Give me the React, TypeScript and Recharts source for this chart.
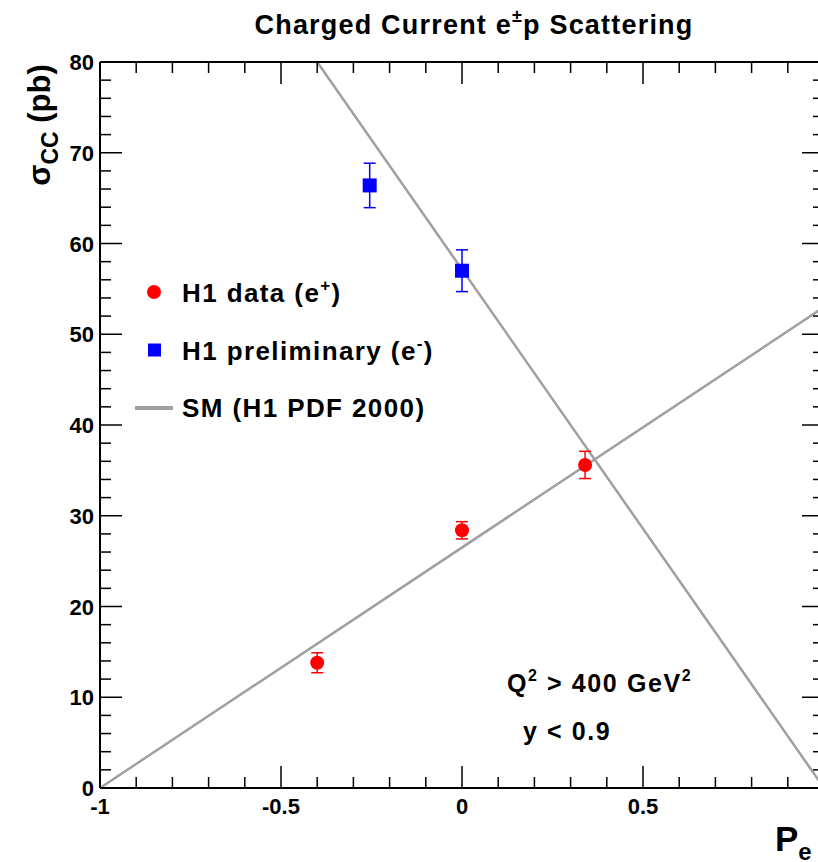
import React from 'react';
import {
  ComposedChart,
  Line,
  Scatter,
  XAxis,
  YAxis,
  ErrorBar,
} from 'recharts';

// H1 charged current cross sections vs lepton beam polarisation
const ePlusData = [
  { p: -0.4, s: 13.8, err: 1.1 },
  { p: 0.0, s: 28.4, err: 0.95 },
  { p: 0.34, s: 35.6, err: 1.5 },
];

const eMinusData = [
  { p: -0.255, s: 66.4, err: 2.45 },
  { p: 0.0, s: 57.0, err: 2.3 },
];

// SM (H1 PDF 2000) straight lines, end points
const smPlus = [
  { p: -1.0, s: 0 },
  { p: 1.0, s: 53.0 },
];
const smMinus = [
  { p: -0.4, s: 80 },
  { p: 1.0, s: 0 },
];

const xTicks = [-1, -0.9, -0.8, -0.7, -0.6, -0.5, -0.4, -0.3, -0.2, -0.1, 0, 0.1, 0.2, 0.3, 0.4, 0.5, 0.6, 0.7, 0.8, 0.9, 1];
const xLabels = ['-1', '-0.5', '0', '0.5'];
const yTicks = [0, 2, 4, 6, 8, 10, 12, 14, 16, 18, 20, 22, 24, 26, 28, 30, 32, 34, 36, 38, 40, 42, 44, 46, 48, 50, 52, 54, 56, 58, 60, 62, 64, 66, 68, 70, 72, 74, 76, 78, 80];
const yLabels = ['0', '10', '20', '30', '40', '50', '60', '70', '80'];

const legendItems = [
  { key: 'plus', label: 'H1 data (e', sup: '+', tail: ')' },
  { key: 'minus', label: 'H1 preliminary (e', sup: '-', tail: ')' },
  { key: 'sm', label: 'SM (H1 PDF 2000)', sup: '', tail: '' },
];

const FONT = "'Liberation Sans', Arial, Helvetica, sans-serif";
const GREY = '#a0a0a0';

const isMajorX = (v: number) => Math.abs(v * 2 - Math.round(v * 2)) < 1e-6;
const isMajorY = (v: number) => v % 10 === 0;

const BottomTick = (props: any) => {
  const { x, y, payload } = props;
  const v = payload.value;
  const major = isMajorX(v);
  const label = xLabels.find((l) => Math.abs(parseFloat(l) - v) < 1e-6);
  return (
    <g>
      <line x1={x} y1={y} x2={x} y2={y - (major ? 22 : 11)} stroke="#000" strokeWidth={1.5} />
      {label && (
        <text x={x} y={y + 26} textAnchor="middle" fontFamily={FONT} fontWeight="bold" fontSize={22} fill="#000">
          {label}
        </text>
      )}
    </g>
  );
};

const TopTick = (props: any) => {
  const { x, y, payload } = props;
  const major = isMajorX(payload.value);
  return <line x1={x} y1={y} x2={x} y2={y + (major ? 22 : 11)} stroke="#000" strokeWidth={1.5} />;
};

const LeftTick = (props: any) => {
  const { x, y, payload } = props;
  const v = payload.value;
  const major = isMajorY(v);
  const label = yLabels.find((l) => parseFloat(l) === v);
  return (
    <g>
      <line x1={x} y1={y} x2={x + (major ? 22 : 11)} y2={y} stroke="#000" strokeWidth={1.5} />
      {label && (
        <text x={x - 6} y={y + 8} textAnchor="end" fontFamily={FONT} fontWeight="bold" fontSize={22} fill="#000">
          {label}
        </text>
      )}
    </g>
  );
};

const RightTick = (props: any) => {
  const { x, y, payload } = props;
  const major = isMajorY(payload.value);
  return <line x1={x} y1={y} x2={x - (major ? 22 : 11)} y2={y} stroke="#000" strokeWidth={1.5} />;
};

const RedDot = (props: any) => <circle cx={props.cx} cy={props.cy} r={7} fill="#ff0000" />;
const BlueSquare = (props: any) => (
  <rect x={props.cx - 7} y={props.cy - 7} width={14} height={14} fill="#0000ff" />
);

const LegendBox = () => (
  <g transform="translate(133,280)">
    {legendItems.map((it, i) => {
      const cy = 12 + i * 57.5;
      return (
        <g key={it.key}>
          {it.key === 'plus' && <circle cx={21} cy={cy} r={7} fill="#ff0000" />}
          {it.key === 'minus' && <rect x={15} y={cy - 6} width={13} height={13} fill="#0000ff" />}
          {it.key === 'sm' && <line x1={2} y1={cy + 1} x2={40} y2={cy + 1} stroke={GREY} strokeWidth={4} />}
          <text x={49} y={cy + 10} fontFamily={FONT} fontWeight="bold" fontSize={26} letterSpacing={1.4} fill="#000">
            {it.label}
            {it.sup && (
              <tspan dy={-11} fontSize={17}>
                {it.sup}
              </tspan>
            )}
            {it.tail && <tspan dy={11}>{it.tail}</tspan>}
          </text>
        </g>
      );
    })}
  </g>
);

export default function App() {
  return (
    <div style={{ position: 'absolute', left: 0, top: 0, width: 818, height: 862, overflow: 'hidden', background: '#fff' }}>
      <ComposedChart width={860} height={862} margin={{ top: 0, right: 0, bottom: 0, left: 0 }}>
        <XAxis
          dataKey="p"
          type="number"
          domain={[-1, 1]}
          ticks={xTicks}
          allowDataOverflow
          height={74}
          tickSize={0}
          tickMargin={0}
          tickLine={false}
          axisLine={{ stroke: '#000', strokeWidth: 2 }}
          tick={<BottomTick />}
          interval={0}
        />
        <XAxis
          xAxisId="top"
          orientation="top"
          dataKey="p"
          type="number"
          domain={[-1, 1]}
          ticks={xTicks}
          allowDataOverflow
          height={62}
          tickSize={0}
          tickMargin={0}
          tickLine={false}
          axisLine={{ stroke: '#000', strokeWidth: 2 }}
          tick={<TopTick />}
          interval={0}
        />
        <YAxis
          type="number"
          domain={[0, 80]}
          ticks={yTicks}
          allowDataOverflow
          width={100}
          tickSize={0}
          tickMargin={0}
          tickLine={false}
          axisLine={{ stroke: '#000', strokeWidth: 2 }}
          tick={<LeftTick />}
          interval={0}
        />
        <YAxis
          yAxisId="right"
          orientation="right"
          type="number"
          domain={[0, 80]}
          ticks={yTicks}
          allowDataOverflow
          width={36}
          tickSize={0}
          tickMargin={0}
          tickLine={false}
          axisLine={{ stroke: '#000', strokeWidth: 2 }}
          tick={<RightTick />}
          interval={0}
        />
        <Line data={smPlus} dataKey="s" stroke={GREY} strokeWidth={2.5} dot={false} isAnimationActive={false} />
        <Line data={smMinus} dataKey="s" stroke={GREY} strokeWidth={2.5} dot={false} isAnimationActive={false} />
        <Scatter data={ePlusData} dataKey="s" shape={<RedDot />} isAnimationActive={false}>
          <ErrorBar dataKey="err" direction="y" width={6} stroke="#ff0000" strokeWidth={1.5} />
        </Scatter>
        <Scatter data={eMinusData} dataKey="s" shape={<BlueSquare />} isAnimationActive={false}>
          <ErrorBar dataKey="err" direction="y" width={6} stroke="#0000ff" strokeWidth={1.5} />
        </Scatter>
      </ComposedChart>
      <svg
        width={818}
        height={862}
        style={{ position: 'absolute', left: 0, top: 0, pointerEvents: 'none' }}
      >
        <LegendBox />
        <text x={474} y={34} textAnchor="middle" fontFamily={FONT} fontWeight="bold" fontSize={27} letterSpacing={1.2} fill="#000">
          Charged Current e<tspan dy={-12} fontSize={18}>±</tspan>
          <tspan dy={12}>p Scattering</tspan>
        </text>
        <text
          transform="translate(50,125) rotate(-90)"
          textAnchor="middle"
          fontFamily={FONT}
          fontWeight="bold"
          fontSize={31}
          fill="#000"
        >
          σ<tspan dy={8} fontSize={23}>CC</tspan>
          <tspan dy={-8}> (pb)</tspan>
        </text>
        <text x={775} y={851} fontFamily={FONT} fontWeight="bold" fontSize={35} fill="#000">
          P<tspan dy={9} fontSize={24}>e</tspan>
        </text>
        <text x={507} y={692} fontFamily={FONT} fontWeight="bold" fontSize={25} letterSpacing={1.6} fill="#000">
          Q<tspan dy={-11} fontSize={16}>2</tspan>
          <tspan dy={11}> &gt; 400 GeV</tspan>
          <tspan dy={-11} fontSize={16}>2</tspan>
        </text>
        <text x={523} y={740} fontFamily={FONT} fontWeight="bold" fontSize={25} letterSpacing={1.6} fill="#000">
          y &lt; 0.9
        </text>
      </svg>
    </div>
  );
}
